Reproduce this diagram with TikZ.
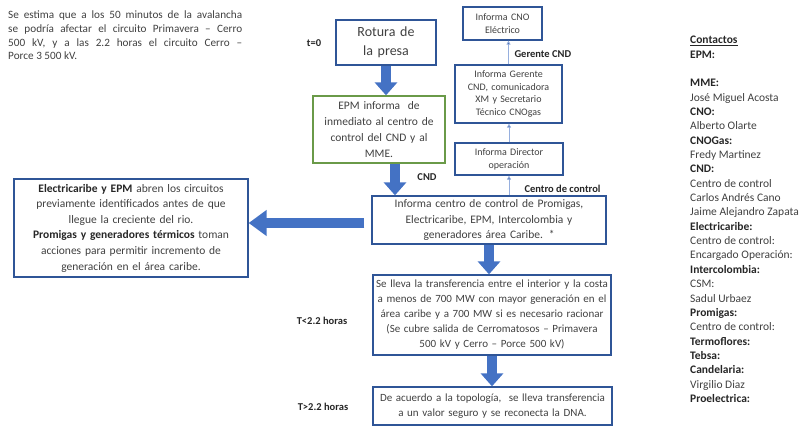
\documentclass[tikz,border=0pt]{standalone}
\usepackage{fontspec}
\setmainfont{Carlito}
\usetikzlibrary{arrows.meta, positioning, calc}

\definecolor{boxblue}{RGB}{47,85,151}
\definecolor{arrowblue}{RGB}{68,114,196}
\definecolor{boxgreen}{RGB}{106,154,72}
\definecolor{thinblue}{RGB}{150,175,222}
\definecolor{bodygray}{RGB}{64,64,64}

\tikzset{
  box/.style={draw=boxblue, line width=1.3pt, align=center, text=bodygray, inner sep=2pt},
  bigarrow/.style={draw=arrowblue, line width=10pt, -{Triangle[width=22pt,length=13pt,fill=arrowblue]}},
  smallarrow/.style={draw=thinblue, line width=0.8pt, -{Triangle[width=4pt,length=4pt,fill=boxblue]}},
  tag/.style={font=\bfseries\fontsize{10.5}{12}\selectfont, text=black!85},
}

\begin{document}
\begin{tikzpicture}[x=1pt,y=-1pt]
  \useasboundingbox (0,0) rectangle (807,428);

  \node[anchor=north west, text width=234pt, align=justify, inner sep=0pt, text=bodygray,
        font=\fontsize{11.2}{13.6}\selectfont] (nota) at (8,11)
    {Se estima que a los 50 minutos de la avalancha\linebreak se podría afectar el circuito Primavera – Cerro\linebreak 500 kV, y a las 2.2 horas el circuito Cerro –\linebreak Porce 3 500 kV.};

  % columna central
  \node[box, minimum width=100pt, minimum height=45pt, text width=94pt,
        font=\fontsize{14}{19}\selectfont] (rotura) at (386,42.5) {Rotura de\\la presa};
  \node[box, draw=boxgreen, minimum width=132pt, minimum height=67pt, text width=126pt,
        font=\fontsize{11.5}{16}\selectfont] (epm) at (379,129.5)
    {EPM informa~ de\\inmediato al centro de\\control del CND y al\\MME.};
  \node[box, minimum width=234pt, minimum height=48pt, text width=228pt,
        font=\fontsize{11.5}{15.5}\selectfont] (centro) at (489,220)
    {Informa centro de control de Promigas,\\Electricaribe, EPM, Intercolombia y\\generadores área Caribe. *};
  \node[box, minimum width=238pt, minimum height=80pt, text width=234pt,
        font=\fontsize{11}{15}\selectfont] (transf) at (492,315)
    {Se lleva la transferencia entre el interior y la costa\\a menos de 700 MW con mayor generación en el\\área caribe y a 700 MW si es necesario racionar\\(Se cubre salida de Cerromatosos – Primavera\\500 kV y Cerro – Porce 500 kV)};
  \node[box, minimum width=239pt, minimum height=38pt, text width=235pt,
        font=\fontsize{11}{15}\selectfont] (topo) at (492.5,406)
    {De acuerdo a la topología,~ se lleva transferencia\\a un valor seguro y se reconecta la DNA.};

  \node[box, minimum width=234pt, minimum height=98pt, text width=228pt,
        font=\fontsize{11.5}{15.6}\selectfont] (acciones) at (131,228)
    {\textbf{\color{black!85}Electricaribe y EPM} abren los circuitos\\previamente identificados antes de que\\llegue la creciente del rio.\\
     \textbf{\color{black!85}Promigas y generadores térmicos} toman\\acciones para permitir incremento de\\generación en el área caribe.};

  % columna derecha
  \node[box, minimum width=79pt, minimum height=33pt, text width=75pt,
        font=\fontsize{10}{13}\selectfont] (cnoe) at (502.5,23.5) {Informa CNO\\Eléctrico};
  \node[box, minimum width=107pt, minimum height=58pt, text width=103pt,
        font=\fontsize{10}{12.7}\selectfont] (gerente) at (508.5,94)
    {Informa Gerente\\CND, comunicadora\\XM y Secretario\\Técnico CNOgas};
  \node[box, minimum width=108pt, minimum height=32pt, text width=104pt,
        font=\fontsize{10}{13}\selectfont] (director) at (509,159) {Informa Director\\operación};

  % etiquetas
  \node[tag] (t0) at (314,43) {t=0};
  \node[tag] (tcnd) at (427,177) {CND};
  \node[tag, anchor=west] (tgerente) at (511,54) {Gerente CND};
  \node[tag, anchor=west] (tcontrol) at (521,189) {Centro de control};
  \node[tag] (tmenor) at (322,321) {T<2.2 horas};
  \node[tag] (tmayor) at (323,407) {T>2.2 horas};

  % flechas
  \draw[bigarrow] (rotura.south) -- (rotura.south |- epm.north);
  \draw[bigarrow] ($(epm.south)+(16,0)$) -- ($(epm.south |- centro.north)+(16,0)$);
  \draw[bigarrow] (centro.south) -- (centro.south |- transf.north);
  \draw[bigarrow] (transf.south) -- (transf.south |- topo.north);
  \draw[bigarrow, shorten <=7pt, -{Triangle[width=25pt,length=18pt,fill=arrowblue]}]
    ($(centro.west)+(0,3)$) -- ($(centro.west -| acciones.east)+(0,3)$);

  \draw[smallarrow] (director.south |- centro.north) -- (director.south);
  \draw[smallarrow] (director.north) -- (director.north |- gerente.south);
  \draw[smallarrow] (gerente.north) -- (gerente.north |- cnoe.south);

  % contactos
  \node[anchor=north west, align=left, inner sep=0pt, text=bodygray,
        font=\fontsize{11.5}{14.35}\selectfont] (contactos) at (690,36)
    {\textbf{\color{black!85}\underline{Contactos}}\\
     \textbf{\color{black!85}EPM:}\\
     \mbox{}\\
     \textbf{\color{black!85}MME:}\\
     José Miguel Acosta\\
     \textbf{\color{black!85}CNO:}\\
     Alberto Olarte\\
     \textbf{\color{black!85}CNOGas:}\\
     Fredy Martinez\\
     \textbf{\color{black!85}CND:}\\
     Centro de control\\
     Carlos Andrés Cano\\
     Jaime Alejandro Zapata\\
     \textbf{\color{black!85}Electricaribe:}\\
     Centro de control:\\
     Encargado Operación:\\
     \textbf{\color{black!85}Intercolombia:}\\
     CSM:\\
     Sadul Urbaez\\
     \textbf{\color{black!85}Promigas:}\\
     Centro de control:\\
     \textbf{\color{black!85}Termoflores:}\\
     \textbf{\color{black!85}Tebsa:}\\
     \textbf{\color{black!85}Candelaria:}\\
     Virgilio Diaz\\
     \textbf{\color{black!85}Proelectrica:}};
\end{tikzpicture}
\end{document}
